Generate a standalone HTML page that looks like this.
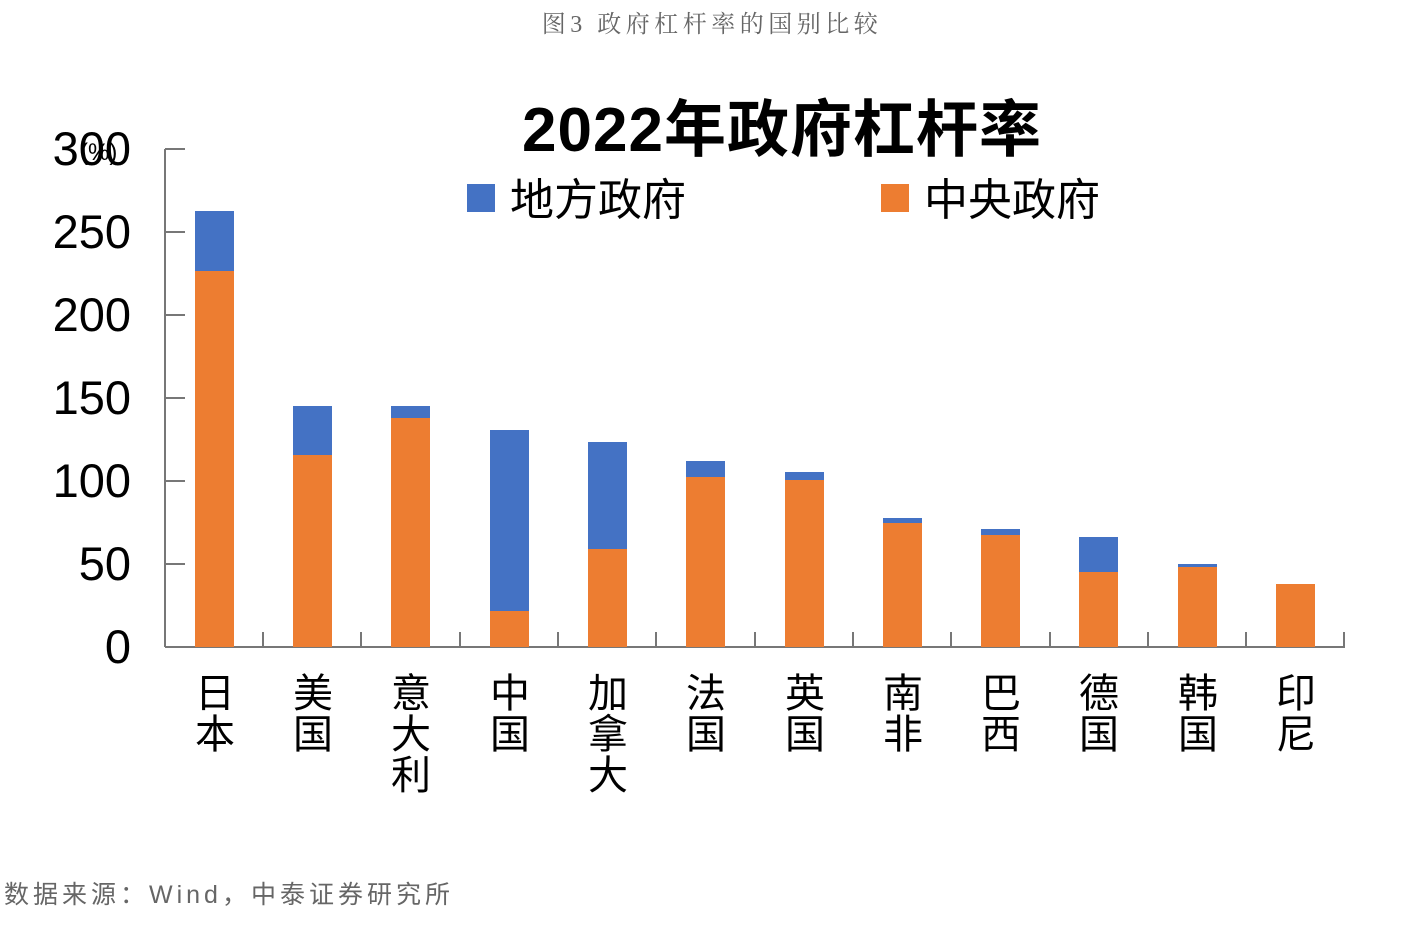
<!DOCTYPE html>
<html><head><meta charset="utf-8"><style>
body{margin:0;background:#fff;width:1414px;height:926px;overflow:hidden}
</style></head><body>
<svg width="1414" height="926" xmlns="http://www.w3.org/2000/svg" font-family="Liberation Sans, Noto Sans CJK SC, sans-serif">
<text x="712" y="32" text-anchor="middle" font-size="24" fill="#666" letter-spacing="4.5" font-family="Liberation Serif, Noto Serif CJK SC, serif">图3  政府杠杆率的国别比较</text>
<text x="782" y="151" text-anchor="middle" font-size="62" font-weight="bold" fill="#000" letter-spacing="1">2022年政府杠杆率</text>
<rect x="467" y="184" width="28" height="28" fill="#4472C4"/>
<text x="510" y="215" font-size="44" fill="#000">地方政府</text>
<rect x="881" y="184" width="28" height="28" fill="#ED7D31"/>
<text x="924" y="215" font-size="44" fill="#000">中央政府</text>
<g font-size="47" fill="#000" text-anchor="end">
<text x="131" y="165">300</text>
<text x="131" y="248">250</text>
<text x="131" y="331">200</text>
<text x="131" y="414">150</text>
<text x="131" y="497">100</text>
<text x="131" y="580">50</text>
<text x="131" y="663">0</text>
</g>
<text x="80" y="160" font-size="24" fill="#000">(%)</text>
<g stroke="#777" stroke-width="2" fill="none">
<line x1="165" y1="149" x2="165" y2="647"/>
<line x1="165" y1="647" x2="1345" y2="647"/>
<line x1="165" y1="149" x2="185" y2="149"/>
<line x1="165" y1="232" x2="185" y2="232"/>
<line x1="165" y1="315" x2="185" y2="315"/>
<line x1="165" y1="398" x2="185" y2="398"/>
<line x1="165" y1="481" x2="185" y2="481"/>
<line x1="165" y1="564" x2="185" y2="564"/>
<line x1="263" y1="632" x2="263" y2="647"/><line x1="361" y1="632" x2="361" y2="647"/><line x1="460" y1="632" x2="460" y2="647"/><line x1="558" y1="632" x2="558" y2="647"/><line x1="656" y1="632" x2="656" y2="647"/><line x1="755" y1="632" x2="755" y2="647"/><line x1="853" y1="632" x2="853" y2="647"/><line x1="951" y1="632" x2="951" y2="647"/><line x1="1050" y1="632" x2="1050" y2="647"/><line x1="1148" y1="632" x2="1148" y2="647"/><line x1="1246" y1="632" x2="1246" y2="647"/><line x1="1344" y1="632" x2="1344" y2="647"/>
</g>
<g fill="#4472C4">
<rect x="195" y="211" width="39" height="60"/>
<rect x="293" y="406" width="39" height="49"/>
<rect x="391" y="406" width="39" height="12"/>
<rect x="490" y="430" width="39" height="181"/>
<rect x="588" y="442" width="39" height="107"/>
<rect x="686" y="461" width="39" height="16"/>
<rect x="785" y="472" width="39" height="8"/>
<rect x="883" y="518" width="39" height="5"/>
<rect x="981" y="529" width="39" height="6"/>
<rect x="1079" y="537" width="39" height="35"/>
<rect x="1178" y="564" width="39" height="3"/>
</g>
<g fill="#ED7D31">
<rect x="195" y="271" width="39" height="376"/>
<rect x="293" y="455" width="39" height="192"/>
<rect x="391" y="418" width="39" height="229"/>
<rect x="490" y="611" width="39" height="36"/>
<rect x="588" y="549" width="39" height="98"/>
<rect x="686" y="477" width="39" height="170"/>
<rect x="785" y="480" width="39" height="167"/>
<rect x="883" y="523" width="39" height="124"/>
<rect x="981" y="535" width="39" height="112"/>
<rect x="1079" y="572" width="39" height="75"/>
<rect x="1178" y="567" width="39" height="80"/>
<rect x="1276" y="584" width="39" height="63"/>
</g>
<g font-size="40" fill="#000" text-anchor="middle">
<text x="215" y="707">日</text><text x="215" y="748">本</text>
<text x="313" y="707">美</text><text x="313" y="748">国</text>
<text x="411" y="707">意</text><text x="411" y="748">大</text><text x="411" y="789">利</text>
<text x="510" y="707">中</text><text x="510" y="748">国</text>
<text x="608" y="707">加</text><text x="608" y="748">拿</text><text x="608" y="789">大</text>
<text x="706" y="707">法</text><text x="706" y="748">国</text>
<text x="805" y="707">英</text><text x="805" y="748">国</text>
<text x="903" y="707">南</text><text x="903" y="748">非</text>
<text x="1001" y="707">巴</text><text x="1001" y="748">西</text>
<text x="1099" y="707">德</text><text x="1099" y="748">国</text>
<text x="1198" y="707">韩</text><text x="1198" y="748">国</text>
<text x="1296" y="707">印</text><text x="1296" y="748">尼</text>
</g>
<text x="4" y="903" font-size="25" fill="#666" letter-spacing="4">数据来源：Wind，中泰证券研究所</text>
</svg>
</body></html>
